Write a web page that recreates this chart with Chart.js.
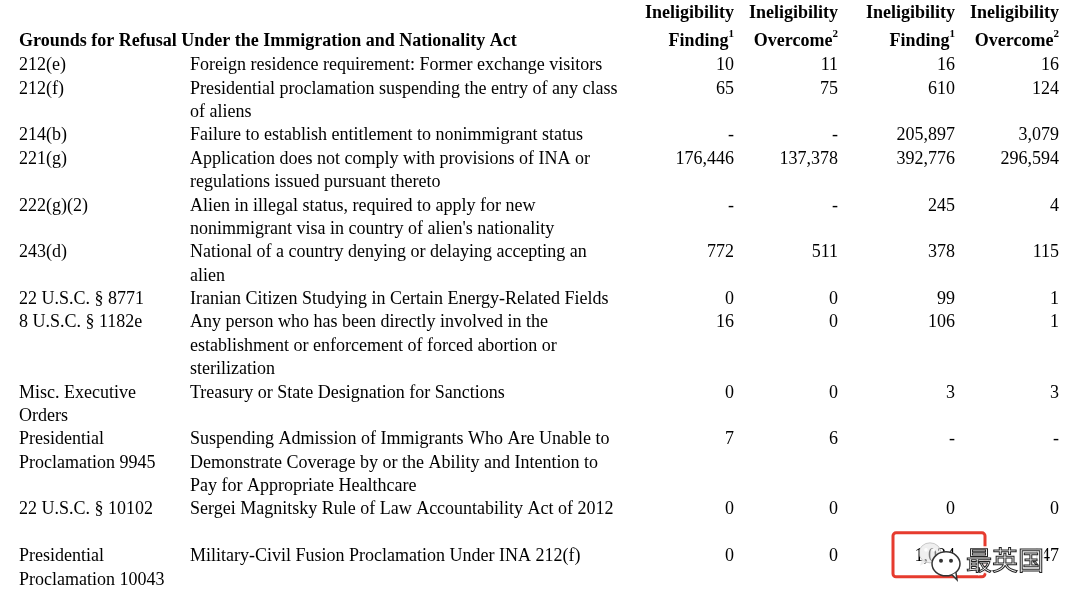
<!DOCTYPE html>
<html>
<head>
<meta charset="utf-8">
<script src="https://cdn.jsdelivr.net/npm/chart.js@4.4.1/dist/chart.umd.min.js"></script>
<style>
  body { margin: 0; background: #fff; }
  #wrap { width: 1080px; height: 610px; }
</style>
</head>
<body>
<div id="wrap"><canvas id="table" width="1080" height="610"></canvas></div>
<script>
// table content
const codes = [
    ['212(e)'], ['212(f)'], ['214(b)'], ['221(g)'], ['222(g)(2)'], ['243(d)'],
    ['22 U.S.C. § 8771'], ['8 U.S.C. § 1182e'], ['Misc. Executive', 'Orders'],
    ['Presidential', 'Proclamation 9945'], ['22 U.S.C. § 10102'], ['Presidential', 'Proclamation 10043']
];
const grounds = [
    ['Foreign residence requirement: Former exchange visitors'],
    ['Presidential proclamation suspending the entry of any class', 'of aliens'],
    ['Failure to establish entitlement to nonimmigrant status'],
    ['Application does not comply with provisions of INA or', 'regulations issued pursuant thereto'],
    ['Alien in illegal status, required to apply for new', "nonimmigrant visa in country of alien's nationality"],
    ['National of a country denying or delaying accepting an', 'alien'],
    ['Iranian Citizen Studying in Certain Energy-Related Fields'],
    ['Any person who has been directly involved in the', 'establishment or enforcement of forced abortion or', 'sterilization'],
    ['Treasury or State Designation for Sanctions'],
    ['Suspending Admission of Immigrants Who Are Unable to', 'Demonstrate Coverage by or the Ability and Intention to', 'Pay for Appropriate Healthcare'],
    ['Sergei Magnitsky Rule of Law Accountability Act of 2012'],
    ['Military-Civil Fusion Proclamation Under INA 212(f)']
];
// null = "-"
const finding1 = [10, 65, null, 176446, null, 772, 0, 16, 0, 7, 0, 0];
const overcome1 = [11, 75, null, 137378, null, 511, 0, 0, 0, 6, 0, 0];
const finding2 = [16, 610, 205897, 392776, 245, 378, 99, 106, 3, null, 0, 1024];
const overcome2 = [16, 124, 3079, 296594, 4, 115, 1, 1, 3, null, 0, 147];

const headTitle = 'Grounds for Refusal Under the Immigration and Nationality Act';
const headTop = ['Ineligibility', 'Ineligibility', 'Ineligibility', 'Ineligibility'];
const headBottom = ['Finding', 'Overcome', 'Finding', 'Overcome'];
const headNotes = ['1', '2', '1', '2'];

// layout
const fontFamily = '"Liberation Serif", "Times New Roman", serif';
const fontSize = 18;
const colX = { code: 19, desc: 190, c1: 734, c2: 838, c3: 955, c4: 1059 };
const extraLinesAfter = { 10: 1 };

function fmt(v) {
    return v === null ? '-' : v.toLocaleString('en-US');
}

// line index where each row starts
const rowLine = [];
let line = 0;
codes.forEach((c, i) => {
    rowLine.push(line);
    line += Math.max(c.length, grounds[i].length) + (extraLinesAfter[i] || 0);
});

function textSet(x, cells, align) {
    return {
        data: cells.map((t, i) => ({ x: x, y: rowLine[i] })),
        cells: cells,
        align: align,
        pointRadius: 0
    };
}

const datasets = [
    textSet(colX.code, codes, 'left'),
    textSet(colX.desc, grounds, 'left'),
    textSet(colX.c1, finding1.map(v => [fmt(v)]), 'right'),
    textSet(colX.c2, overcome1.map(v => [fmt(v)]), 'right'),
    textSet(colX.c3, finding2.map(v => [fmt(v)]), 'right'),
    textSet(colX.c4, overcome2.map(v => [fmt(v)]), 'right'),
];

const tablePlugin = {
    id: 'tableText',
    afterDatasetsDraw(chart) {
        const ctx = chart.ctx;
        const x = chart.scales.x, y = chart.scales.y;
        const lh = y.getPixelForValue(1) - y.getPixelForValue(0);
        const base = fontSize * 0.35;
        ctx.save();
        ctx.fillStyle = '#000';
        ctx.textBaseline = 'alphabetic';

        // header
        ctx.font = 'bold ' + fontSize + 'px ' + fontFamily;
        ctx.textAlign = 'left';
        ctx.fillText(headTitle, x.getPixelForValue(colX.code), y.getPixelForValue(-1.03) + base);
        ['c1', 'c2', 'c3', 'c4'].forEach((k, i) => {
            const px = x.getPixelForValue(colX[k]);
            ctx.font = 'bold ' + fontSize + 'px ' + fontFamily;
            ctx.textAlign = 'right';
            ctx.fillText(headTop[i], px, y.getPixelForValue(-2.25) + base);
            ctx.font = 'bold 11px ' + fontFamily;
            const nw = ctx.measureText(headNotes[i]).width;
            ctx.fillText(headNotes[i], px, y.getPixelForValue(-1.03) + base - 9);
            ctx.font = 'bold ' + fontSize + 'px ' + fontFamily;
            ctx.fillText(headBottom[i], px - nw, y.getPixelForValue(-1.03) + base);
        });

        // cells
        ctx.font = fontSize + 'px ' + fontFamily;
        chart.data.datasets.forEach((ds, di) => {
            const meta = chart.getDatasetMeta(di);
            ctx.textAlign = ds.align;
            meta.data.forEach((el, j) => {
                ds.cells[j].forEach((t, k) => {
                    ctx.fillText(t, el.x, el.y + k * lh + base);
                });
            });
        });
        ctx.restore();
    },
    afterDraw(chart) {
        // red box + WeChat watermark over the last row
        const meta = chart.getDatasetMeta(4);
        const el = meta.data[meta.data.length - 1];
        const ctx = chart.ctx;
        ctx.save();
        ctx.strokeStyle = '#e63b2e';
        ctx.lineWidth = 3;
        ctx.beginPath();
        ctx.roundRect(el.x - 62, el.y - 22, 92, 44, 3);
        ctx.stroke();

        // back bubble (faint)
        ctx.fillStyle = 'rgba(225,225,225,0.55)';
        ctx.strokeStyle = 'rgba(170,170,170,0.6)';
        ctx.lineWidth = 1;
        ctx.beginPath();
        ctx.ellipse(el.x - 25, el.y - 2, 11, 10, 0, 0, Math.PI * 2);
        ctx.fill(); ctx.stroke();
        ctx.beginPath();
        ctx.moveTo(el.x - 33, el.y + 4);
        ctx.lineTo(el.x - 35, el.y + 11);
        ctx.lineTo(el.x - 27, el.y + 7);
        ctx.fill();
        ctx.fillStyle = 'rgba(255,255,255,0.9)';
        [-29, -21].forEach(dx => {
            ctx.beginPath(); ctx.arc(el.x + dx, el.y - 5, 1.8, 0, Math.PI * 2); ctx.fill();
        });

        // front bubble
        ctx.fillStyle = '#fff';
        ctx.strokeStyle = '#333';
        ctx.lineWidth = 1.5;
        ctx.beginPath();
        ctx.ellipse(el.x - 9, el.y + 9, 14, 12, 0, 0, Math.PI * 2);
        ctx.fill(); ctx.stroke();
        ctx.beginPath();
        ctx.moveTo(el.x - 3, el.y + 20);
        ctx.lineTo(el.x + 2, el.y + 25);
        ctx.lineTo(el.x + 1, el.y + 18);
        ctx.fill(); ctx.stroke();
        ctx.fillStyle = '#333';
        [-14, -4].forEach(dx => {
            ctx.beginPath(); ctx.arc(el.x + dx, el.y + 6, 2, 0, Math.PI * 2); ctx.fill();
        });

        // watermark name
        ctx.font = '26px "Noto Sans CJK SC", sans-serif';
        ctx.textAlign = 'left';
        ctx.textBaseline = 'middle';
        ctx.lineWidth = 5;
        ctx.strokeStyle = 'rgba(255,255,255,0.9)';
        ctx.strokeText('最英国', el.x + 11, el.y + 5);
        ctx.fillStyle = '#fff';
        ctx.fillText('最英国', el.x + 11, el.y + 5);
        ctx.lineWidth = 1;
        ctx.strokeStyle = '#222';
        ctx.strokeText('最英国', el.x + 11, el.y + 5);
        ctx.restore();
    }
};

const config = {
    type: 'scatter',
    data: { datasets: datasets },
    options: {
        responsive: false,
        animation: false,
        events: [],
        layout: { padding: 0 },
        plugins: {
            legend: { display: false },
            tooltip: { enabled: false }
        },
        scales: {
            x: { type: 'linear', display: false, min: 0, max: 1080 },
            y: { type: 'linear', display: false, reverse: true, min: -2.739, max: 23.36 }
        }
    },
    plugins: [tablePlugin]
};

const myTable = new Chart(document.getElementById('table'), config);
</script>
</body>
</html>
